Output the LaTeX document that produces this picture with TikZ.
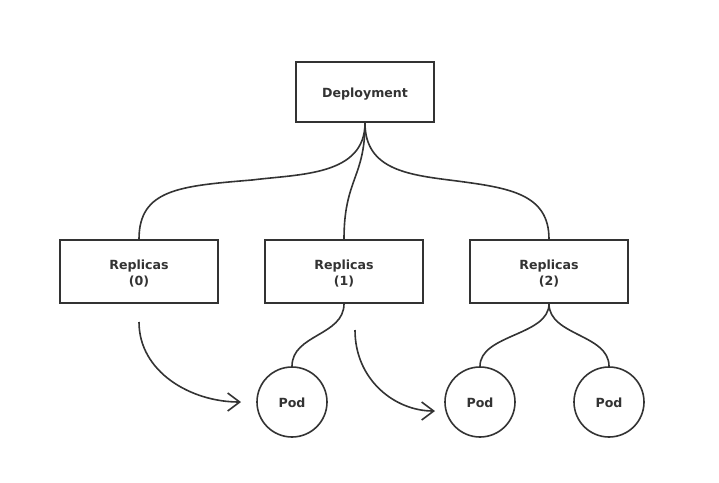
\documentclass[tikz,border=0pt]{standalone}
\usepackage{fontspec}
\setmainfont{DejaVu Sans}
\usetikzlibrary{arrows.meta}
\definecolor{ink}{HTML}{333333}
\tikzset{
  txt/.style={text=ink, font=\fontsize{12.6}{16}\selectfont\bfseries, align=center, inner sep=0pt},
  box/.style={draw=ink, line width=1.6pt, minimum width=138pt, minimum height=60pt, inner sep=0pt},
  rbox/.style={box, minimum width=158pt, minimum height=63pt},
  pod/.style={draw=ink, line width=1.6pt, circle, minimum size=70pt, inner sep=0pt},
  link/.style={draw=ink, line width=1.6pt},
  flow/.style={link, -{Straight Barb[length=12pt,width=18pt,line width=1.6pt]}}
}
\begin{document}
\begin{tikzpicture}[x=1pt,y=-1pt]
\useasboundingbox (0,0) rectangle (719,482);
\node[box] (dep) at (365,92) {};
\node[rbox] (r0) at (139,271.5) {};
\node[rbox] (r1) at (344,271.5) {};
\node[rbox] (r2) at (549,271.5) {};
\node[pod] (p1) at (292,402) {};
\node[pod] (p2) at (480,402) {};
\node[pod] (p3) at (609,402) {};
\node[txt] (tdep) at ([yshift=-2pt]dep.center) {Deployment};
\node[txt] (tr0) at ([yshift=-2pt]r0.center) {Replicas\\(0)};
\node[txt] (tr1) at ([yshift=-2pt]r1.center) {Replicas\\(1)};
\node[txt] (tr2) at ([yshift=-2pt]r2.center) {Replicas\\(2)};
\node[txt] (tp1) at ([yshift=-1pt]p1.center) {Pod};
\node[txt] (tp2) at ([yshift=-1pt]p2.center) {Pod};
\node[txt] (tp3) at ([yshift=-1pt]p3.center) {Pod};
\coordinate (m0) at (252,180);
\coordinate (m2) at (457,181);
\coordinate (a0s) at (139,322);
\coordinate (a0e) at (241,402);
\coordinate (a1s) at (355,330);
\coordinate (a1e) at (435,411);
\draw[link] (dep.south) .. controls +(0,53) and +(48,-6) .. (m0)
  .. controls +(-72,6) and +(0,-50) .. (r0.north);
\draw[link] (dep.south) .. controls +(0,55) and +(0,-60) .. (r1.north);
\draw[link] (dep.south) .. controls +(0,48) and +(-47,-6) .. (m2)
  .. controls +(53,7) and +(0,-45) .. (r2.north);
\draw[link] (r1.south) .. controls +(0,32) and +(0,-32) .. (p1.north);
\draw[link] (r2.south) .. controls +(0,32) and +(0,-32) .. (p2.north);
\draw[link] (r2.south) .. controls +(0,32) and +(0,-32) .. (p3.north);
\draw[flow] (a0s) .. controls +(0,50) and +(-50,0) .. (a0e);
\draw[flow] (a1s) .. controls +(0,50) and +(-40,0) .. (a1e);
\end{tikzpicture}
\end{document}
